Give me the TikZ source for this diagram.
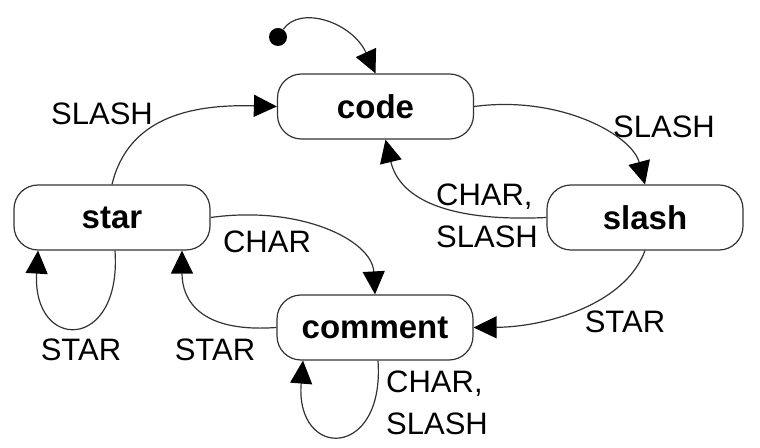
\documentclass[tikz,border=0pt]{standalone}
\usepackage{fontspec}
\setmainfont{Liberation Sans}
\usepackage{tikz}
\usetikzlibrary{arrows.meta}
\definecolor{edgegray}{HTML}{333333}

\tikzset{
  state/.style={draw=edgegray,line width=0.6pt,rounded corners=12pt,
    minimum width=98pt,minimum height=32.5pt,inner sep=0pt,
    font=\fontsize{16.5}{19}\selectfont\bfseries},
  start/.style={circle,fill=black,minimum size=9pt,inner sep=0pt},
  trans/.style={draw=edgegray,line width=0.6pt,-{Triangle[length=11.5pt,width=11pt,black]}},
  lbl/.style={font=\fontsize{15.5}{21}\selectfont,inner sep=0pt,align=left}
}

\begin{document}
\begin{tikzpicture}[x=0.5pt,y=-0.5pt]
\useasboundingbox (0,0) rectangle (760,448);
% states
\node[state] (code) at (375.5,106.5) {code};
\node[state] (slash) at (645,217.5) {slash};
\node[state] (star) at (112,217.5) {star};
\node[state] (comment) at (375,327.5) {comment};
\node[start] (init) at (278,37) {};
% transitions
\draw[trans] (init) .. controls (300,5) and (352,22) .. (code.north);
\draw[trans] (code.east) .. controls (560,95) and (632,135) .. (slash.north);
\draw[trans] (slash.west) .. controls (450,222) and (400,200) .. ([xshift=5pt]code.south);
\draw[trans] (slash.south) .. controls (625,305) and (545,327) .. (comment.east);
\draw[trans] (comment.west) .. controls (200,333) and (182,300) .. ([xshift=35pt]star.south);
\draw[trans] (star.east) .. controls (300,205) and (372,240) .. (comment.north);
\draw[trans] (star.north) .. controls (128,118) and (190,104) .. (code.west);
\draw[trans] ([xshift=1.5pt]star.south) .. controls (122,352) and (32,352) .. ([xshift=-37pt]star.south);
\draw[trans] ([xshift=1.5pt]comment.south) .. controls (385,460) and (295,460) .. ([xshift=-36pt]comment.south);
% labels
\node[lbl] (l-slash1) at (102,114) {SLASH};
\node[lbl] (l-slash2) at (664,127) {SLASH};
\node[lbl] (l-back) at (487,216) {CHAR,\\SLASH};
\node[lbl] (l-char) at (267,242) {CHAR};
\node[lbl] (l-star1) at (625,322) {STAR};
\node[lbl] (l-star2) at (81,350) {STAR};
\node[lbl] (l-star3) at (215,350) {STAR};
\node[lbl] (l-loop) at (437,403) {CHAR,\\SLASH};
\end{tikzpicture}
\end{document}
